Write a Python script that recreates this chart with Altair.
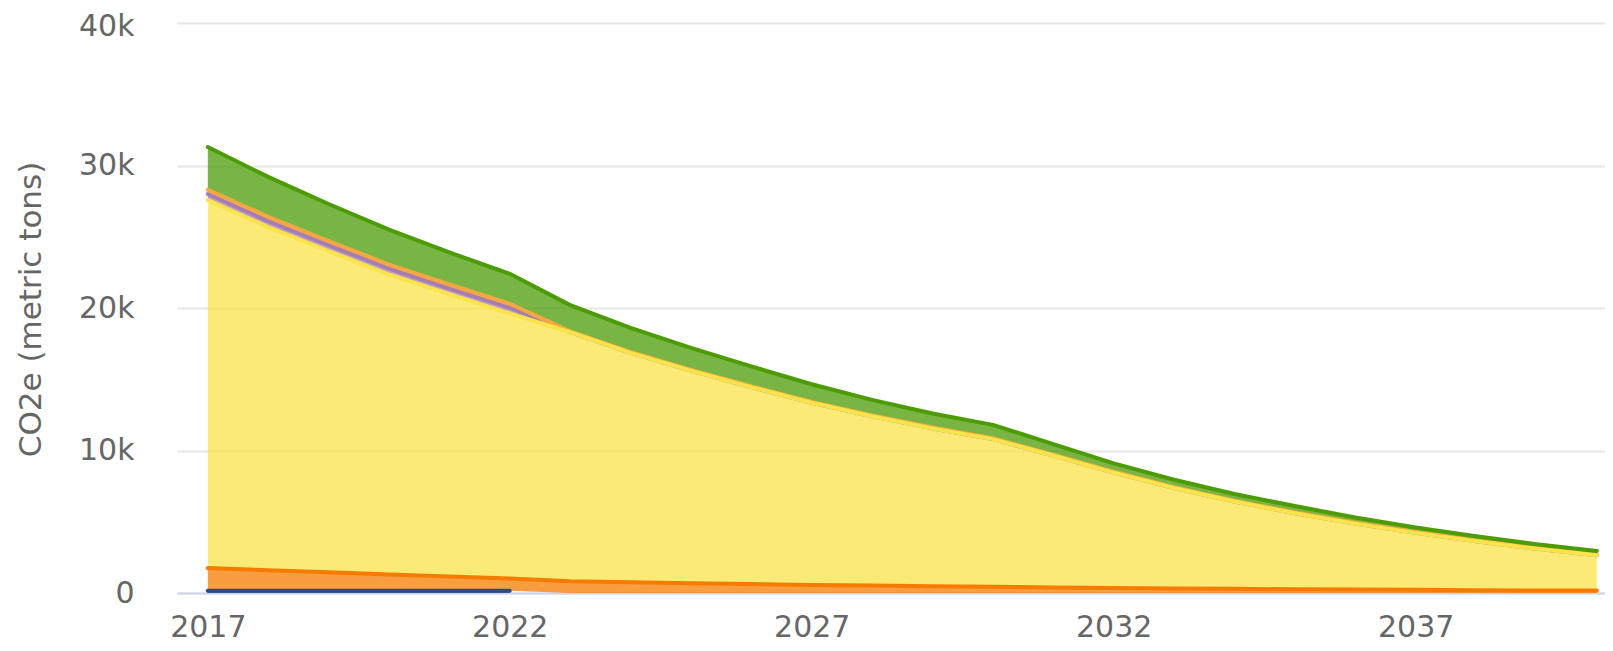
import altair as alt
import pandas as pd

years = list(range(2017, 2041))

# stacked series (metric tons CO2e), bottom to top
blue = [150, 150, 150, 150, 150, 150] + [None] * 18
orange = [1600, 1450, 1300, 1150, 1010, 870, 830, 760, 690, 630, 570, 520,
          470, 430, 390, 350, 320, 290, 260, 240, 220, 200, 180, 170]
yellow = [25830, 24080, 22550, 21050, 19810, 18600, 17470, 16090, 14910, 13820,
          12780, 11880, 11080, 10370, 9260, 8100, 7050, 6130, 5340, 4630,
          4000, 3430, 2920, 2480]
purple = [420, 420, 410, 410, 400, 400] + [0] * 18
peach = [300, 300, 290, 290, 280, 280] + [60] * 18
green = [3000, 2800, 2600, 2450, 2250, 2100, 1840, 1690, 1540, 1390, 1240, 1090,
         990, 940, 740, 590, 520, 470, 440, 370, 320, 290, 260, 240]

series_names = ["blue", "orange", "yellow", "purple", "peach", "green"]
series_values = [blue, orange, yellow, purple, peach, green]
series_colors = ["#284d8c", "#f57c00", "#fbe34a", "#a67db3", "#f5a742", "#4c9c05"]

x_ticks = [2017, 2022, 2027, 2032, 2037]
y_ticks = [0, 10000, 20000, 30000, 40000]
y_tick_labels = ["0", "10k", "20k", "30k", "40k"]

rows = []
for order, (name, vals) in enumerate(zip(series_names, series_values)):
    for yr, v in zip(years, vals):
        if v is not None:
            rows.append({"year": yr, "series": name, "order": order, "value": v})
df = pd.DataFrame(rows)

label_expr = " : ".join(
    f"datum.value == {v} ? '{t}'" for v, t in zip(y_ticks, y_tick_labels)
) + " : ''"

base = alt.Chart(df).transform_stack(
    stack="value",
    groupby=["year"],
    as_=["y0", "y1"],
    sort=[alt.SortField("order", order="ascending")],
)

x_enc = alt.X(
    "year:Q",
    scale=alt.Scale(domain=[2016.49, 2040.135], nice=False, zero=False),
    axis=alt.Axis(values=x_ticks, format="d", title=None, grid=False, ticks=False,
                  labelFlush=False, labelPadding=19, labelFontSize=30,
                  labelColor="#666666", labelFont="DejaVu Sans",
                  domainColor="#ccd6eb", domainWidth=2),
)
y_scale = alt.Scale(domain=[0, 40000], nice=False)
y_axis = alt.Axis(values=y_ticks, labelExpr=label_expr, title="CO2e (metric tons)",
                  ticks=False, domain=False, grid=True, gridColor="#e6e6e6",
                  gridWidth=2, labelPadding=43, labelFontSize=30,
                  labelOffset={"condition": {"test": f"datum.value == {y_ticks[-1]}",
                                             "value": 3}, "value": 0},
                  labelColor="#666666", labelFont="DejaVu Sans",
                  titleFontSize=31, titleFontWeight="normal", titleColor="#666666",
                  titleFont="DejaVu Sans", titleAngle=270, titleX=-146, titleY=286,
                  titleAlign="center", titleBaseline="middle")

areas = base.mark_area(fillOpacity=0.75, interpolate="linear").encode(
    x=x_enc,
    y=alt.Y("y1:Q", scale=y_scale, axis=y_axis),
    y2="y0:Q",
    color=alt.Color("series:N", scale=alt.Scale(domain=series_names, range=series_colors),
                    legend=None),
)

line_order = ["blue", "orange", "purple", "peach", "yellow", "green"]
lines = []
for name in line_order:
    col = series_colors[series_names.index(name)]
    lines.append(
        base.transform_filter(alt.datum.series == name)
        .mark_line(color=col, strokeWidth=4, strokeCap="round", strokeJoin="round",
                   interpolate="linear")
        .encode(x=alt.X("year:Q"), y=alt.Y("y1:Q"))
    )

chart = alt.layer(areas, *lines).properties(
    width=1428,
    height=570,
    padding={"left": 169, "top": 15, "right": 0, "bottom": 50},
    autosize=alt.AutoSizeParams(type="none"),
).configure_view(stroke=None)

chart.save("out.html", embed_options={"renderer": "svg", "actions": False})
